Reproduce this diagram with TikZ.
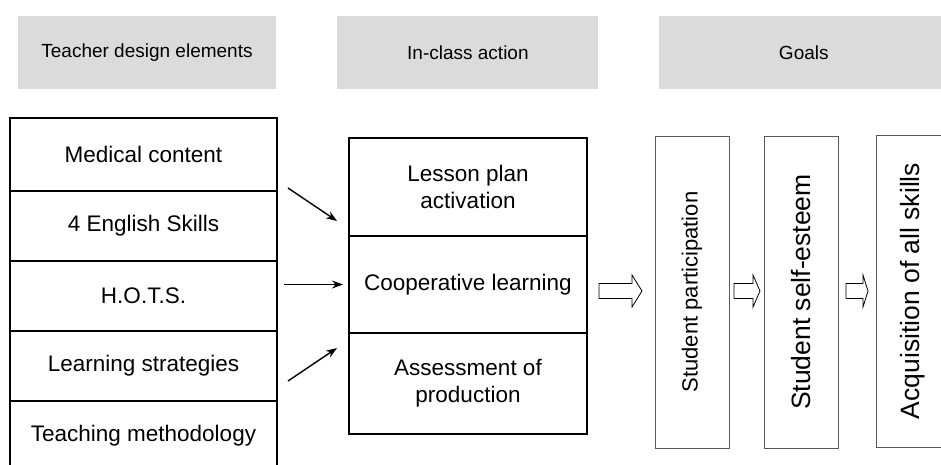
\documentclass[tikz,border=0pt]{standalone}
\usepackage{fontspec}
\setmainfont{Liberation Sans}
\usetikzlibrary{arrows.meta,positioning,calc}
\usepackage{xcolor}

\begin{document}
\begin{tikzpicture}[x=1pt,y=-1pt,node distance=0pt,
	cell/.style={draw,rectangle,line width=1.6pt,outer sep=0pt,minimum width=267pt,font=\fontsize{22.5}{27}\selectfont},
	act/.style={cell,minimum width=238pt,align=center},
	head/.style={rectangle,fill=black!14,minimum height=73pt,font=\fontsize{19}{23}\selectfont},
	goal/.style={draw=black!65,line width=0.9pt,rectangle,rotate=90,minimum width=312pt,minimum height=74pt},
	hollow/.style={draw,line width=0.8pt,line join=miter},
	link/.style={-{Stealth[length=11pt,width=8pt]},line width=1.4pt}]
	\path[use as bounding box,clip] (0,0) rectangle (941,464);
	
	\node[head,minimum width=258pt] (hdesign) at (147,52.5) {Teacher design elements};
	\node[head,minimum width=261pt,right=61pt of hdesign] (haction) {In-class action};
	\node[head,minimum width=290pt,right=60pt of haction] (hgoals) {Goals};
	
	\node[cell,minimum height=73pt] (medical) at (143.5,154.5) {Medical content};
	\node[cell,minimum height=70pt,below=of medical] (english) {4 English Skills};
	\node[cell,minimum height=70pt,below=of english] (hots) {H.O.T.S.};
	\node[cell,minimum height=70pt,below=of hots] (strategies) {Learning strategies};
	\node[cell,minimum height=70pt,below=of strategies] (method) {Teaching methodology};
	
	\node[act,minimum height=98pt] (lesson) at (468,187) {Lesson plan\\activation};
	\node[act,minimum height=97pt,below=of lesson] (coop) {Cooperative learning};
	\node[act,minimum height=101pt,below=of coop] (assess) {Assessment of\\production};
	
	\node[goal,font=\fontsize{22}{26}\selectfont] (part) at (692,292) {Student participation};
	\node[goal,font=\fontsize{26.5}{30}\selectfont] (esteem) at (801,292) {Student self-esteem};
	\node[goal,font=\fontsize{26.5}{30}\selectfont] (skills) at (913,291) {Acquisition of all skills};
	
	% block arrows between the columns
	\draw[hollow] (599,283.5) -- (632,283.5) -- (632,275) -- (642,291) -- (632,307) -- (632,298.5) -- (599,298.5) -- cycle;
	\draw[hollow] (734,283.5) -- (753,283.5) -- (753,275) -- (760,291) -- (753,307) -- (753,298.5) -- (734,298.5) -- cycle;
	\draw[hollow] (846,283.5) -- (863,283.5) -- (863,275) -- (868,291) -- (863,307) -- (863,298.5) -- (846,298.5) -- cycle;
	
	\draw[link] ($(english.north east)+(11,-3)$) -- ($(lesson.south west)+(-12,-15)$);
	\draw[link] ([xshift=-65pt]coop.west) -- ([xshift=-6pt]coop.west);
	\draw[link] ($(strategies.east)+(11,15)$) -- ($(assess.north west)+(-12,15)$);
\end{tikzpicture}
\end{document}
